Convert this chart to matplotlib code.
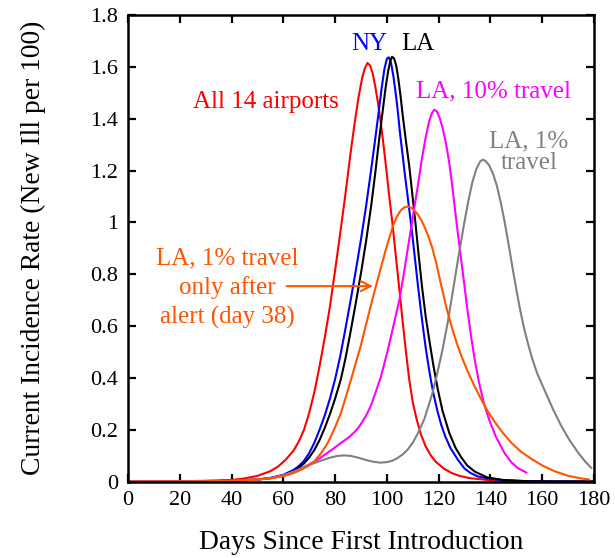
import matplotlib
matplotlib.use("Agg")
import matplotlib.pyplot as plt
from matplotlib.ticker import FormatStrFormatter

plt.rcParams['font.family'] = ['Liberation Serif', 'DejaVu Serif']

# all 14 airports
red_day = [0, 20, 30, 40, 45, 50, 55, 58, 61, 64, 66, 68, 70, 72, 74, 76, 78, 80, 82, 84,
           86, 87.5, 89, 90.5, 91.5, 92.5, 93.5, 94.5, 95.5, 96.5, 97.5, 98.5, 99.6, 100.8, 102.2, 103.5, 104.8, 106,
           107.3, 108.6, 110, 111.5, 113.2, 115, 117, 119, 122, 125, 128, 132, 140, 150, 165, 180]
red_val = [0, 0.001, 0.003, 0.006, 0.012, 0.022, 0.04, 0.058, 0.085, 0.12, 0.155, 0.2, 0.265, 0.345, 0.445, 0.555, 0.675, 0.815, 0.96, 1.11,
           1.27, 1.38, 1.48, 1.56, 1.595, 1.615, 1.605, 1.575, 1.525, 1.465, 1.395, 1.315, 1.22, 1.11, 0.99, 0.865, 0.742, 0.625,
           0.505, 0.395, 0.305, 0.24, 0.18, 0.135, 0.1, 0.075, 0.05, 0.033, 0.022, 0.013, 0.005, 0.002, 0, 0]

# NY
ny_day = [0, 20, 30, 40, 45, 50, 55, 60, 64, 66, 68, 70, 72, 74, 76, 78, 80, 82, 84, 86,
          88, 90, 92, 93.8, 95.4, 97, 98, 99, 100, 100.8, 101.6, 102.5, 103.5, 104.3, 105, 106, 107, 108, 109, 110,
          111, 112, 113, 114, 115, 116, 117, 118, 119.5, 121, 122.5, 124.5, 127.4, 130, 132.3, 135, 138.7, 145, 155, 180]
ny_val = [0, 0.0005, 0.001, 0.003, 0.005, 0.008, 0.014, 0.026, 0.045, 0.06, 0.08, 0.11, 0.15, 0.2, 0.255, 0.32, 0.395, 0.485, 0.59, 0.7,
          0.815, 0.935, 1.065, 1.195, 1.315, 1.44, 1.52, 1.59, 1.632, 1.637, 1.615, 1.565, 1.49, 1.42, 1.35, 1.265, 1.18, 1.1, 1.02, 0.935,
          0.845, 0.755, 0.67, 0.59, 0.515, 0.45, 0.39, 0.338, 0.272, 0.218, 0.175, 0.13, 0.084, 0.05, 0.033, 0.02, 0.012, 0.005, 0.001, 0]

# LA
la_day = [0, 20, 30, 40, 45, 50, 55, 60, 64, 66, 68, 70, 72, 74, 76, 78, 80, 82.2, 84, 86,
          88, 90, 92, 94, 95.5, 97, 98.5, 99.5, 100.5, 101.3, 102, 102.8, 103.6, 104.4, 105.3, 106.2, 107.4, 108.6, 109.8, 111.1,
          112.3, 113.6, 115, 116.3, 118, 119.6, 121.5, 124.1, 126.5, 128.6, 131, 134, 138.7, 145, 155, 180]
la_val = [0, 0.0005, 0.001, 0.003, 0.005, 0.008, 0.013, 0.024, 0.04, 0.054, 0.07, 0.093, 0.122, 0.16, 0.207, 0.26, 0.32, 0.394, 0.475, 0.58,
          0.69, 0.805, 0.93, 1.07, 1.19, 1.32, 1.44, 1.52, 1.585, 1.622, 1.639, 1.632, 1.605, 1.555, 1.485, 1.405, 1.31, 1.22, 1.11, 0.99,
          0.87, 0.748, 0.635, 0.55, 0.445, 0.358, 0.272, 0.187, 0.13, 0.095, 0.062, 0.038, 0.016, 0.006, 0.001, 0]

# LA, 10% travel
la10_day = [0, 20, 30, 40, 45, 50, 55, 60, 64, 68, 70, 73.2, 76.5, 79.6, 82.2, 85, 87.4, 89, 90.5, 92,
            93.8, 95.5, 97.7, 100.3, 102.5, 104.8, 106.5, 108, 110, 112, 113.5, 115, 116.3, 117.3, 118.3, 119.3, 120.3, 121.5, 122.8, 124,
            125, 126, 127, 128, 129, 129.9, 131, 132.5, 134, 135.5, 137.5, 139.6, 142, 145.4, 148, 150.5, 153.8]
la10_val = [0, 0.0005, 0.001, 0.003, 0.005, 0.008, 0.013, 0.024, 0.038, 0.056, 0.066, 0.084, 0.107, 0.129, 0.149, 0.168, 0.19, 0.208, 0.23, 0.255,
            0.292, 0.34, 0.405, 0.505, 0.6, 0.7, 0.8, 0.895, 1.02, 1.145, 1.245, 1.33, 1.39, 1.42, 1.435, 1.428, 1.405, 1.365, 1.305, 1.235,
            1.16, 1.075, 0.99, 0.91, 0.83, 0.76, 0.67, 0.56, 0.465, 0.385, 0.3, 0.235, 0.175, 0.11, 0.075, 0.052, 0.035]

# LA, 1% travel
la1_day = [0, 20, 30, 40, 45, 50, 55, 60, 64, 68, 71.9, 75, 78, 81, 83.5, 86, 89, 92, 95, 97.5,
           100, 102, 104, 106, 108, 110, 112, 114.4, 116, 117.7, 119.5, 121.5, 123.5, 125.4, 127.5, 129.9, 131.5, 133, 134.5, 136,
           137, 138, 139.5, 141, 142.5, 144, 145.4, 147, 148.5, 150, 151.5, 153, 154.4, 156, 158, 160.9, 164, 167.3, 170.5, 173.8,
           176.5, 178.9]
la1_val = [0, 0.0005, 0.001, 0.003, 0.005, 0.008, 0.013, 0.024, 0.038, 0.056, 0.071, 0.082, 0.092, 0.099, 0.101, 0.099, 0.092, 0.083, 0.076, 0.073,
           0.075, 0.08, 0.09, 0.104, 0.123, 0.15, 0.187, 0.24, 0.29, 0.345, 0.42, 0.51, 0.615, 0.73, 0.86, 1.0, 1.085, 1.155, 1.205, 1.235,
           1.242, 1.238, 1.22, 1.187, 1.14, 1.075, 1.005, 0.915, 0.825, 0.74, 0.66, 0.59, 0.535, 0.478, 0.418, 0.352, 0.282, 0.215, 0.16, 0.112,
           0.078, 0.053]

# LA, 1% travel only after alert
alert_day = [0, 20, 30, 40, 45, 50, 55, 60, 64, 67, 69.3, 71.9, 74.5, 77.1, 79.5, 82.2, 84, 86.1, 88, 89.9,
             91.5, 93, 94.5, 96, 97.7, 99.3, 100.8, 102.3, 103.8, 105.3, 106.7, 108, 109.3, 110.6, 112, 113.2, 114.5, 116, 117.5, 119,
             120.9, 122.8, 125, 127, 129, 131.2, 133.5, 136, 139, 142, 145, 148, 151.8, 155.7, 160, 164.7, 170, 175, 178]
alert_val = [0, 0.0005, 0.001, 0.003, 0.005, 0.008, 0.012, 0.02, 0.033, 0.046, 0.058, 0.077, 0.108, 0.148, 0.198, 0.263, 0.322, 0.392, 0.458, 0.524,
             0.588, 0.648, 0.707, 0.763, 0.826, 0.885, 0.936, 0.985, 1.022, 1.046, 1.058, 1.061, 1.057, 1.046, 1.03, 1.01, 0.983, 0.947, 0.902, 0.845,
             0.76, 0.678, 0.597, 0.533, 0.478, 0.425, 0.375, 0.325, 0.27, 0.225, 0.185, 0.15, 0.115, 0.088, 0.062, 0.04, 0.022, 0.012, 0.008]

orange = '#ff5500'
gray = '#808080'

fig = plt.figure(figsize=(6.15, 5.58), dpi=100)
ax = fig.add_axes([0.208, 0.137, 0.758, 0.836])

lw = 1.5
ax.plot(red_day, red_val, color='red', lw=lw)
ax.plot(ny_day, ny_val, color='blue', lw=lw)
ax.plot(la_day, la_val, color='black', lw=lw)
ax.plot(la10_day, la10_val, color='magenta', lw=lw)
ax.plot(la1_day, la1_val, color=gray, lw=lw)
ax.plot(alert_day, alert_val, color=orange, lw=lw)

ax.set_xlim(0, 180)
ax.set_ylim(0, 1.8)
ax.set_xticks(range(0, 181, 20))
ax.set_yticks([0, 0.2, 0.4, 0.6, 0.8, 1.0, 1.2, 1.4, 1.6, 1.8])
ax.yaxis.set_major_formatter(FormatStrFormatter('%g'))
ax.tick_params(direction='in', top=True, right=True, length=6, width=1.6,
               labelsize=16, pad=7)
for s in ax.spines.values():
    s.set_linewidth(1.8)

ax.set_xlabel('Days Since First Introduction', fontsize=19.8, labelpad=14)
ax.set_ylabel('Current Incidence Rate (New Ill per 100)', fontsize=19.8, labelpad=32)

fs = 18
ax.text(81.4, 1.466, 'All 14 airports', color='red', fontsize=fs, ha='right', va='center')
ax.text(100.2, 1.69, 'NY', color='blue', fontsize=fs, ha='right', va='center')
ax.text(105.5, 1.69, 'LA', color='black', fontsize=fs, ha='left', va='center')
ax.text(111.2, 1.505, 'LA, 10% travel', color='magenta', fontsize=fs, ha='left', va='center')
ax.text(154.9, 1.27, 'LA, 1%\ntravel', color=gray, fontsize=fs, ha='center', va='center',
        multialignment='center', linespacing=0.98)
ax.text(38.5, 0.745, 'LA, 1% travel\nonly after\nalert (day 38)', color=orange, fontsize=fs,
        ha='center', va='center', multialignment='center', linespacing=1.38)
ax.annotate('', xy=(95.7, 0.754), xytext=(60.2, 0.754),
            arrowprops=dict(arrowstyle='->', color=orange, lw=1.5, mutation_scale=18))

fig.savefig('out.png', dpi=100)
